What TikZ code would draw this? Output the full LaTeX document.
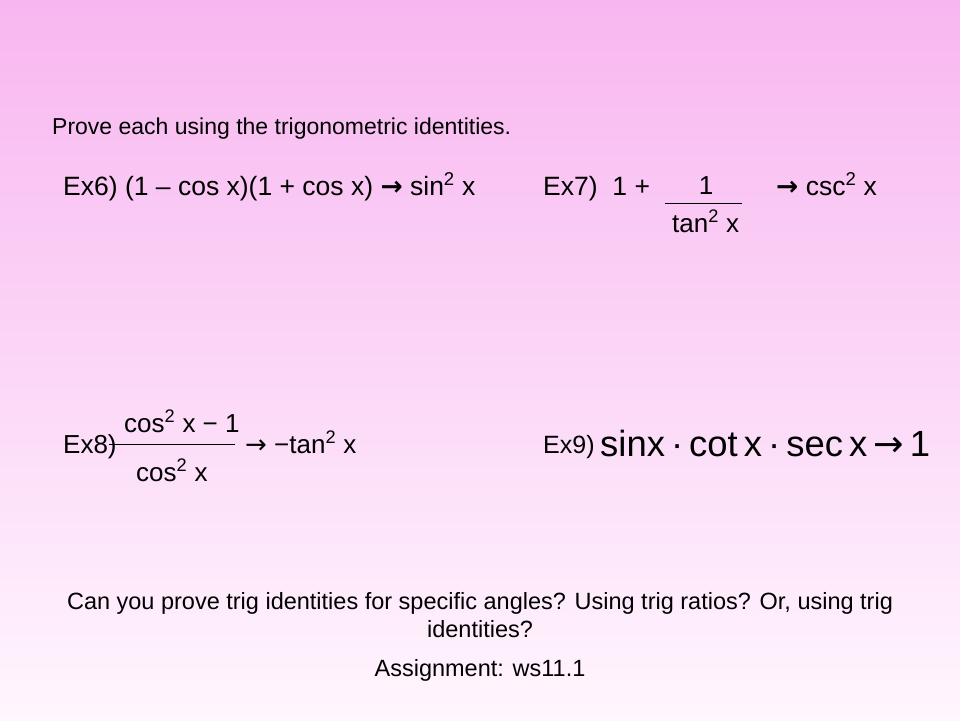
\documentclass[tikz,border=0pt]{standalone}
\usepackage{fontspec}
\usepackage{graphicx}
\setmainfont{Liberation Sans}
\newfontfamily\dv{DejaVu Sans}
\definecolor{pinktop}{RGB}{248,182,240}
\definecolor{pinkbot}{RGB}{255,246,254}
\begin{document}
\begin{tikzpicture}[x=1pt,y=-1pt,
  txt/.style={inner sep=0pt,anchor=base west},
  fs/.style={font=\fontsize{#1}{#1}\selectfont}]
\shade[top color=pinktop,bottom color=pinkbot] (0,0) rectangle (960,720);
\useasboundingbox (0,0) rectangle (960,720);
\node[txt,fs=23] (title) at (52,134) {Prove each using the trigonometric identities.};
% Ex6
\node[txt,fs=26.5] (ex6) at (63,195) {Ex6) (1 – cos x)(1 + cos x) {\dv\bfseries →} sin\textsuperscript{2} x};
% Ex7
\node[txt,fs=26.5] (ex7) at (543,195) {Ex7) \ 1 +};
\node[inner sep=0pt,fs=26] (ex7n) at (706,186) {1};
\draw[line width=0.8pt] (665,203) coordinate (l7a) -- (742,203) coordinate (l7b);
\node[txt,fs=26] (ex7d) at (672,232) {tan\textsuperscript{2} x};
\node[txt,fs=26.5] (ex7r) at (776,195) {{\dv\bfseries →} csc\textsuperscript{2} x};
% Ex8
\node[txt,fs=26] (ex8) at (63,453) {Ex8)};
\node[txt,fs=26] (ex8n) at (124,432) {cos\textsuperscript{2} x − 1};
\draw[line width=0.8pt] (109,444) coordinate (l8a) -- (235,444) coordinate (l8b);
\node[txt,fs=26] (ex8d) at (136,481) {cos\textsuperscript{2} x};
\node[txt,fs=26] (ex8r) at (245,453) {{\dv→} −tan\textsuperscript{2} x};
% Ex9
\node[txt,fs=25] (ex9) at (543,453) {Ex9)};
\node[txt,fs=38] (ex9r) at (600,456) {\resizebox{330pt}{!}{sinx\,·\,cot\,x\,·\,sec\,x\,{\dv→}\,1}};
% bottom
\node[fs=23.5,align=center,inner sep=0pt] (q) at (480,615) {Can you prove trig identities for specific angles? Using trig ratios? Or, using trig\\[4pt] identities?};
\node[fs=23.5,inner sep=0pt] (as) at (480,670) {Assignment: ws11.1};
\end{tikzpicture}
\end{document}
